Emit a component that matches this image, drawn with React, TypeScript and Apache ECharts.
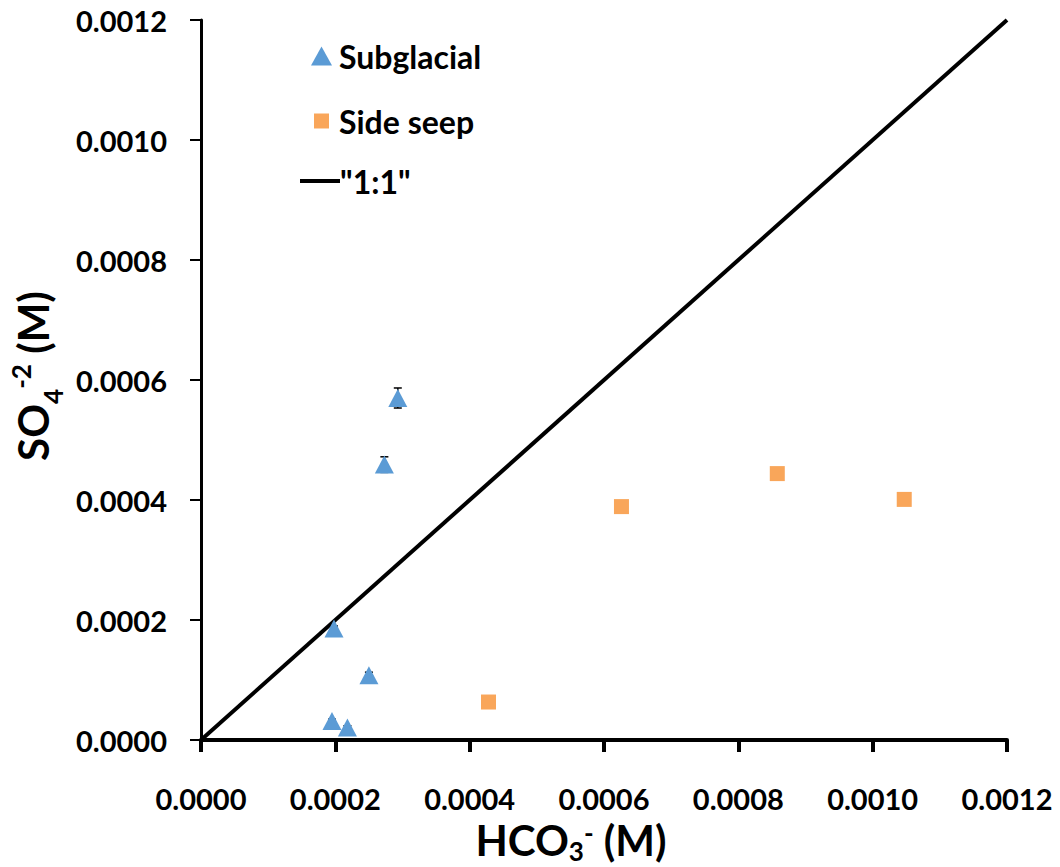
import React, { useEffect, useRef } from "react";
import * as echarts from "echarts";

const subX = [0.000293, 0.000273, 0.000198, 0.00025, 0.000195, 0.000218];
const subY = [0.00057, 0.000459, 0.000186, 0.000108, 0.0000317, 0.0000208];
const subErr = [0.0000167, 0.000013, 0.000004, 0.000005, 0.000003, 0.000003];
const seepX = [0.000428, 0.000626, 0.000858, 0.001047];
const seepY = [0.0000633, 0.000389, 0.000444, 0.000401];
const oneToOneX = [0, 0.0012];
const oneToOneY = [0, 0.0012];
const axisMin = 0;
const axisMax = 0.0012;
const axisStep = 0.0002;

const FONT = "Lato, 'Open Sans', sans-serif";

export default function App() {
  const ref = useRef<HTMLDivElement>(null);
  useEffect(() => {
    document.body.style.margin = "0";
    const chart = echarts.init(ref.current!, null, { renderer: "svg" });
    const labelStyle = { fontFamily: FONT, fontWeight: "bold", fontSize: 29, color: "#000" };
    const legendText = (pad: number) => ({
      fontFamily: FONT, fontWeight: "bold", fontSize: 32, color: "#000", lineHeight: 34, padding: [0, 0, 0, pad],
    });
    chart.setOption({
      animation: false,
      backgroundColor: "#fff",
      grid: { left: 201, right: 53, top: 20, bottom: 127 },
      xAxis: {
        type: "value",
        min: axisMin,
        max: axisMax,
        interval: axisStep,
        axisLine: { show: true, lineStyle: { color: "#000", width: 4 } },
        axisTick: { show: true, length: 12, lineStyle: { color: "#000", width: 4 } },
        axisLabel: { ...labelStyle, margin: 44, formatter: (v: number) => v.toFixed(4) },
        splitLine: { show: false },
      },
      yAxis: {
        type: "value",
        min: axisMin,
        max: axisMax,
        interval: axisStep,
        axisLine: { show: true, lineStyle: { color: "#000", width: 3 } },
        axisTick: { show: true, length: 11, lineStyle: { color: "#000", width: 2 } },
        axisLabel: { ...labelStyle, margin: 34, formatter: (v: number) => v.toFixed(4) },
        splitLine: { show: false },
      },
      legend: [
        {
          left: 306, top: 34, itemWidth: 21, itemHeight: 19, itemGap: 0,
          data: [{ name: "Subglacial", icon: "triangle" }],
          textStyle: legendText(2),
        },
        {
          left: 309, top: 99, itemWidth: 15, itemHeight: 15, itemGap: 0,
          data: [{ name: "Side seep", icon: "rect" }],
          textStyle: legendText(5),
        },
        {
          left: 295, top: 159, itemWidth: 40, itemHeight: 4, itemGap: 0,
          data: [{ name: '"1:1"', icon: "rect" }],
          textStyle: legendText(-5),
        },
      ],
      graphic: [
        {
          type: "text",
          x: 571,
          y: 840,
          style: {
            text: "{a|HCO}{b|3}{c|-}{a| (M)}",
            align: "center",
            verticalAlign: "middle",
            fill: "#000",
            rich: {
              a: { fontFamily: FONT, fontWeight: "bold", fontSize: 42, lineHeight: 40 },
              b: { fontFamily: FONT, fontWeight: "bold", fontSize: 26, lineHeight: 40, verticalAlign: "bottom", padding: [0, 0, -4, 0] },
              c: { fontFamily: FONT, fontWeight: "bold", fontSize: 26, lineHeight: 40, verticalAlign: "top", padding: [0, 0, 6, 0] },
            },
          },
        },
        {
          type: "text",
          x: 33,
          y: 376,
          rotation: Math.PI / 2,
          style: {
            text: "{a|SO}{b|4}{c|-2}{a| (M)}",
            align: "center",
            verticalAlign: "middle",
            fill: "#000",
            rich: {
              a: { fontFamily: FONT, fontWeight: "bold", fontSize: 42, lineHeight: 50 },
              b: { fontFamily: FONT, fontWeight: "bold", fontSize: 26, lineHeight: 50, verticalAlign: "bottom", padding: [0, 0, -8, 0] },
              c: { fontFamily: FONT, fontWeight: "bold", fontSize: 26, lineHeight: 50, verticalAlign: "top" },
            },
          },
        },
      ],
      series: [
        {
          name: '"1:1"',
          type: "line",
          data: oneToOneX.map((x, i) => [x, oneToOneY[i]]),
          symbol: "none",
          lineStyle: { color: "#000", width: 4 },
          itemStyle: { color: "#000" },
          z: 1,
        },
        {
          name: "error",
          type: "custom",
          data: subX.map((x, i) => [x, subY[i], subY[i] - subErr[i], subY[i] + subErr[i]]),
          encode: { x: 0, y: [1, 2, 3] },
          z: 2,
          renderItem: (params: any, api: any) => {
            const x = api.value(0);
            const lo = api.coord([x, api.value(2)]);
            const hi = api.coord([x, api.value(3)]);
            const cap = 4;
            const st = { stroke: "#000", lineWidth: 1.5 };
            return {
              type: "group",
              children: [
                { type: "line", shape: { x1: lo[0], y1: lo[1], x2: hi[0], y2: hi[1] }, style: st },
                { type: "line", shape: { x1: lo[0] - cap, y1: lo[1], x2: lo[0] + cap, y2: lo[1] }, style: st },
                { type: "line", shape: { x1: hi[0] - cap, y1: hi[1], x2: hi[0] + cap, y2: hi[1] }, style: st },
              ],
            };
          },
        },
        {
          name: "Subglacial",
          type: "scatter",
          data: subX.map((x, i) => [x, subY[i]]),
          symbol: "triangle",
          symbolSize: [19, 18],
          itemStyle: { color: "#5B9BD5", opacity: 1 },
          z: 3,
        },
        {
          name: "Side seep",
          type: "scatter",
          data: seepX.map((x, i) => [x, seepY[i]]),
          symbol: "rect",
          symbolSize: 15,
          itemStyle: { color: "#F9A65A", opacity: 1 },
          z: 3,
        },
      ],
    });
    return () => chart.dispose();
  }, []);
  return <div ref={ref} style={{ width: 1060, height: 867 }} />;
}
